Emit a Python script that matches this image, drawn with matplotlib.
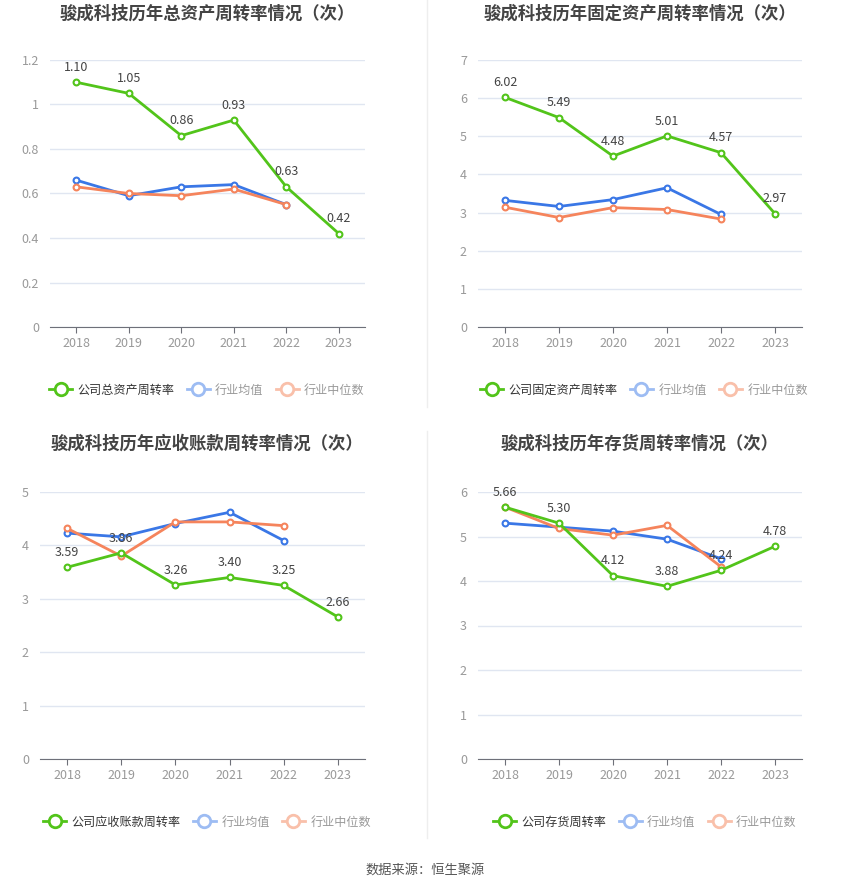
import matplotlib
matplotlib.use("Agg")
import matplotlib.pyplot as plt
from matplotlib.lines import Line2D
from matplotlib.ticker import FuncFormatter, MultipleLocator

plt.rcParams['font.family'] = ['Noto Sans CJK SC', 'DejaVu Sans']

years = ['2018', '2019', '2020', '2021', '2022', '2023']

titles = ['骏成科技历年总资产周转率情况（次）', '骏成科技历年固定资产周转率情况（次）',
          '骏成科技历年应收账款周转率情况（次）', '骏成科技历年存货周转率情况（次）']
company_names = ['公司总资产周转率', '公司固定资产周转率', '公司应收账款周转率', '公司存货周转率']

total_company = [1.10, 1.05, 0.86, 0.93, 0.63, 0.42]
total_mean = [0.66, 0.59, 0.63, 0.64, 0.55]
total_median = [0.63, 0.60, 0.59, 0.62, 0.55]

fixed_company = [6.02, 5.49, 4.48, 5.01, 4.57, 2.97]
fixed_mean = [3.32, 3.16, 3.34, 3.65, 2.95]
fixed_median = [3.14, 2.87, 3.13, 3.08, 2.83]

recv_company = [3.59, 3.86, 3.26, 3.40, 3.25, 2.66]
recv_mean = [4.23, 4.16, 4.41, 4.62, 4.09]
recv_median = [4.32, 3.80, 4.44, 4.44, 4.37]

inv_company = [5.66, 5.30, 4.12, 3.88, 4.24, 4.78]
inv_mean = [5.30, 5.21, 5.12, 4.94, 4.50]
inv_median = [5.66, 5.18, 5.03, 5.25, 4.32]

ymax = [1.2, 7, 5, 6]
ystep = [0.2, 1, 1, 1]

series = [(total_company, total_mean, total_median),
          (fixed_company, fixed_mean, fixed_median),
          (recv_company, recv_mean, recv_median),
          (inv_company, inv_mean, inv_median)]

W, H = 850, 891
fig = plt.figure(figsize=(W / 100, H / 100), dpi=100)
fig.patch.set_facecolor('white')

# pixel boxes (left, top, right, bottom)
boxes = [(50, 60, 365, 327), (478, 60, 802, 327), (40, 492, 365, 759), (478, 492, 802, 759)]
title_pos = [(207, 14), (640, 14), (207, 444), (640, 444)]
legend_pos = [(207, 390), (644, 390), (207, 822), (645, 822)]

GREEN = '#52c41a'
BLUE = '#3a77e6'
ORANGE = '#f5845c'
BLUE_L = '#9dbcf3'
ORANGE_L = '#f9c0aa'

for i in range(4):
    l, t, r, b = boxes[i]
    ax = fig.add_axes([l / W, 1 - b / H, (r - l) / W, (b - t) / H])
    comp, mean, med = series[i]
    x = list(range(len(years)))
    ax.plot(x[:len(mean)], mean, color=BLUE, lw=2, marker='o', ms=4.2,
            mfc='white', mec=BLUE, mew=1.5, zorder=3)
    ax.plot(x[:len(med)], med, color=ORANGE, lw=2, marker='o', ms=4.2,
            mfc='white', mec=ORANGE, mew=1.5, zorder=3)
    ax.plot(x, comp, color=GREEN, lw=2, marker='o', ms=4.2,
            mfc='white', mec=GREEN, mew=1.5, zorder=4)
    for xi, v in zip(x, comp):
        ax.annotate(f'{v:.2f}', (xi, v), xytext=(0, 6), textcoords='offset points',
                    ha='center', va='bottom', fontsize=9, color='#444444', zorder=5)
    ax.set_xlim(-0.5, 5.5)
    ax.set_ylim(0, ymax[i])
    ax.yaxis.set_major_locator(MultipleLocator(ystep[i]))
    ax.yaxis.set_major_formatter(FuncFormatter(lambda v, p: f'{v:g}'))
    ax.set_xticks(x)
    ax.set_xticklabels(years)
    ax.grid(axis='y', color='#e0e6f1', lw=1)
    ax.set_axisbelow(True)
    for s in ['top', 'right', 'left']:
        ax.spines[s].set_visible(False)
    ax.spines['bottom'].set_color('#6e7079')
    ax.tick_params(axis='y', length=0, colors='#999999', labelsize=9, pad=8)
    ax.tick_params(axis='x', length=4, color='#6e7079', labelcolor='#999999', labelsize=9, pad=3)

    tx, ty = title_pos[i]
    fig.text(tx / W, 1 - ty / H, titles[i], ha='center', va='center',
             fontsize=12.5, fontweight='bold', color='#444444')

    handles = [
        Line2D([], [], color=GREEN, lw=2, marker='o', ms=9, mfc='white', mec=GREEN, mew=2),
        Line2D([], [], color=BLUE_L, lw=2, marker='o', ms=9, mfc='white', mec=BLUE_L, mew=2),
        Line2D([], [], color=ORANGE_L, lw=2, marker='o', ms=9, mfc='white', mec=ORANGE_L, mew=2),
    ]
    lx, ly = legend_pos[i]
    leg = fig.legend(handles, [company_names[i], '行业均值', '行业中位数'], loc='center',
                     bbox_to_anchor=(lx / W, 1 - ly / H), ncol=3, frameon=False,
                     fontsize=8.7, handlelength=1.9, handletextpad=0.45, columnspacing=1.0)
    txts = leg.get_texts()
    txts[0].set_color('#333333')
    txts[1].set_color('#999999')
    txts[2].set_color('#999999')

# separators
fig.add_artist(Line2D([427 / W, 427 / W], [1 - 0 / H, 1 - 407 / H], color='#eeeeee', lw=1))
fig.add_artist(Line2D([427 / W, 427 / W], [1 - 431 / H, 1 - 838 / H], color='#eeeeee', lw=1))

fig.text(425 / W, 1 - 870 / H, '数据来源：恒生聚源', ha='center', va='center',
         fontsize=9.5, color='#555555')

fig.savefig('out.png', dpi=100, facecolor='white')
